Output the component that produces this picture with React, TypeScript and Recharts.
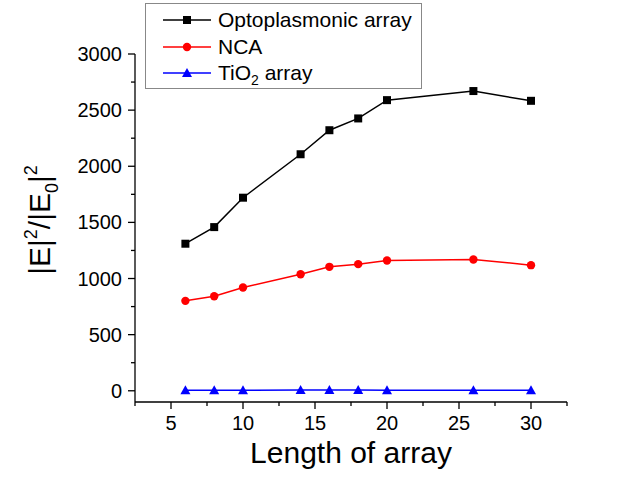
import { LineChart, Line, XAxis, YAxis, Legend } from 'recharts';

// array length (x) and field enhancement |E|^2/|E0|^2 for each structure
const lengths = [6, 8, 10, 14, 16, 18, 20, 26, 30];
const optoplasmonic = [1310, 1458, 1720, 2107, 2321, 2426, 2589, 2670, 2583];
const nca = [801, 842, 920, 1038, 1104, 1128, 1161, 1170, 1119];
const tio2 = [4, 5, 4, 6, 6, 6, 5, 5, 5];

const xTicks = [2.5, 5, 7.5, 10, 12.5, 15, 17.5, 20, 22.5, 25, 27.5, 30, 32.5];
const yTicks = [0, 250, 500, 750, 1000, 1250, 1500, 1750, 2000, 2250, 2500, 2750, 3000];

const data = lengths.map((length, i) => ({
  length,
  opto: optoplasmonic[i],
  nca: nca[i],
  tio2: tio2[i],
}));

const FONT = '"Liberation Sans", Arial, sans-serif';

const XTick = ({ x, y, payload }: any) => {
  const major = payload.value % 5 === 0;
  return (
    <g>
      <line x1={x} x2={x} y1={y} y2={y + (major ? 7 : 4)} stroke="#000" strokeWidth={1.3} />
      {major && (
        <text x={x} y={y + 28} textAnchor="middle" fontSize={20} fontFamily={FONT} fill="#000">
          {payload.value}
        </text>
      )}
    </g>
  );
};

const YTick = ({ x, y, payload }: any) => {
  const major = payload.value % 500 === 0;
  return (
    <g>
      <line x1={x - (major ? 7 : 4)} x2={x} y1={y} y2={y} stroke="#000" strokeWidth={1.3} />
      {major && (
        <text x={x - 13} y={y + 7} textAnchor="end" fontSize={20} fontFamily={FONT} fill="#000">
          {payload.value}
        </text>
      )}
    </g>
  );
};

const XLabel = () => (
  <text x={351} y={463} textAnchor="middle" fontSize={30} fontFamily={FONT} fill="#000">
    Length of array
  </text>
);

const YLabel = () => (
  <text
    transform="translate(50,220) rotate(-90)"
    textAnchor="middle"
    fontSize={30}
    fontFamily={FONT}
    fill="#000"
  >
    |E|<tspan fontSize={18} dy={-13}>2</tspan>
    <tspan dy={13}>/|E</tspan>
    <tspan fontSize={18} dy={8}>0</tspan>
    <tspan dy={-8}>|</tspan>
    <tspan fontSize={18} dy={-13}>2</tspan>
  </text>
);

const Square = ({ cx, cy, index }: any) => (
  <rect key={`s${index}`} x={cx - 4} y={cy - 4} width={8} height={8} fill="#000" />
);
const Circle = ({ cx, cy, index }: any) => (
  <circle key={`c${index}`} cx={cx} cy={cy} r={4.2} fill="#f00" />
);
const Triangle = ({ cx, cy, index }: any) => (
  <path key={`t${index}`} d={`M${cx},${cy - 5} L${cx + 5},${cy + 4} L${cx - 5},${cy + 4} Z`} fill="#00f" />
);

const legendRows = [
  { label: <>Optoplasmonic array</>, color: '#000', marker: (cx: number, cy: number) => <rect x={cx - 4} y={cy - 4} width={8} height={8} fill="#000" /> },
  { label: <>NCA</>, color: '#f00', marker: (cx: number, cy: number) => <circle cx={cx} cy={cy} r={4.2} fill="#f00" /> },
  {
    label: <>TiO<sub style={{ fontSize: 14, lineHeight: 0 }}>2</sub> array</>,
    color: '#00f',
    marker: (cx: number, cy: number) => <path d={`M${cx},${cy - 5} L${cx + 5},${cy + 4} L${cx - 5},${cy + 4} Z`} fill="#00f" />,
  },
];

const LegendBox = () => (
  <div
    style={{
      width: 277,
      height: 86,
      border: '1px solid #888',
      background: '#fff',
      fontFamily: FONT,
      fontSize: 21,
      color: '#000',
      paddingTop: 3,
      boxSizing: 'border-box',
    }}
  >
    {legendRows.map((row, i) => (
      <div key={i} style={{ display: 'flex', alignItems: 'center', height: 26.5, lineHeight: '26px' }}>
        <svg width={72} height={20} style={{ flex: 'none' }}>
          <line x1={17} x2={65} y1={10} y2={10} stroke={row.color} strokeWidth={1.5} />
          {row.marker(41, 10)}
        </svg>
        <span>{row.label}</span>
      </div>
    ))}
  </div>
);

export default function App() {
  return (
    <div style={{ position: 'absolute', left: 0, top: 0, width: 624, height: 479, background: '#fff' }}>
      <LineChart width={624} height={479} data={data} margin={{ top: 54, right: 57, left: 0, bottom: 0 }}>
        <XAxis
          type="number"
          dataKey="length"
          domain={[2.5, 32.5]}
          ticks={xTicks}
          interval={0}
          tickSize={0}
          tickMargin={0}
          tickLine={false}
          tick={<XTick />}
          height={77}
          axisLine={{ stroke: '#000', strokeWidth: 1.3 }}
          label={<XLabel />}
        />
        <YAxis
          type="number"
          domain={[-100, 3000]}
          ticks={yTicks}
          interval={0}
          tickSize={0}
          tickMargin={0}
          tickLine={false}
          tick={<YTick />}
          width={135}
          axisLine={{ stroke: '#000', strokeWidth: 1.3 }}
          label={<YLabel />}
        />
        <Legend
          layout="vertical"
          align="center"
          verticalAlign="middle"
          content={<LegendBox />}
          wrapperStyle={{ position: 'absolute', left: 145, top: 3, width: 277, height: 86 }}
        />
        <Line dataKey="opto" stroke="#000" strokeWidth={1.5} dot={Square} activeDot={false} isAnimationActive={false} />
        <Line dataKey="nca" stroke="#f00" strokeWidth={1.5} dot={Circle} activeDot={false} isAnimationActive={false} />
        <Line dataKey="tio2" stroke="#00f" strokeWidth={1.5} dot={Triangle} activeDot={false} isAnimationActive={false} />
      </LineChart>
    </div>
  );
}
